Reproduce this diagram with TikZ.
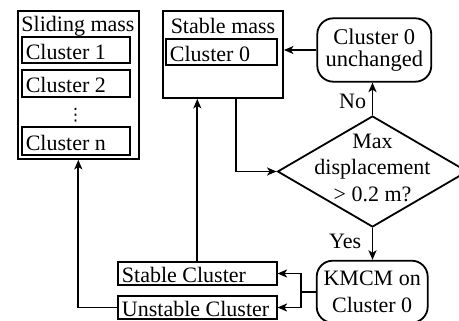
\documentclass[tikz,border=0pt]{standalone}
\usepackage{fontspec}
\setmainfont{Liberation Serif}
\newfontfamily\symfont{DejaVu Sans}
\usetikzlibrary{shapes.geometric,arrows.meta}
\begin{document}
\begin{tikzpicture}[x=1pt,y=-1pt,line width=1.8pt,
  txt/.style={font=\fontsize{22}{26}\selectfont, inner sep=0pt},
  frame/.style={draw, rectangle, inner sep=0pt},
  cbox/.style={draw, rectangle, txt, inner xsep=4pt, inner ysep=0pt,
               align=flush left, text height=19pt, text depth=0pt},
  rbox/.style={draw, rounded corners=16pt, txt, align=center, inner sep=0pt},
  arr/.style={-{Stealth[length=9.5pt,width=8pt,inset=2.5pt]}}]
\useasboundingbox (0,0) rectangle (459,321);
\clip (0,0) rectangle (459,321);

% Sliding mass group
\node[frame, minimum width=121.3pt, minimum height=148pt] (slide) at (78.3,85) {};
\node[txt, anchor=base] (slidet) at (78,32) {Sliding mass};
\node[cbox, text width=100pt, minimum height=26pt] (c1) at (75.8,49.7) {Cluster 1};
\node[cbox, text width=100pt, minimum height=26.7pt] (c2) at (75.8,83.3) {Cluster 2};
\node[inner sep=0pt, font=\symfont\fontsize{17}{17}\selectfont] (dots) at (75.5,115.5) {⋮};
\node[cbox, text width=100pt, minimum height=27.7pt] (cn) at (75.8,141.2) {Cluster n};

% Stable mass group
\node[frame, minimum width=120pt, minimum height=87pt] (stab) at (223,54.5) {};
\node[txt, anchor=base] (stabt) at (223,33.3) {Stable mass};
\node[cbox, text width=102.7pt, minimum height=26pt] (c0) at (221.3,52) {Cluster 0};

% Unchanged outcome
\node[rbox, minimum width=114pt, minimum height=63.4pt,
      font=\fontsize{22.5}{21.7}\selectfont] (unch) at (374.3,50) {Cluster 0\\unchanged};

% Decision
\node[draw, diamond, minimum width=190pt, minimum height=111pt, inner sep=0pt] (dec) at (372.5,171.5) {};
\node[txt, align=center, font=\fontsize{22}{26.4}\selectfont] (dect) at (372.5,167.9)
      {Max\\displacement\\> 0.2 m?};

% Clustering step
\node[rbox, minimum width=111pt, minimum height=62pt,
      font=\fontsize{22}{26.7}\selectfont] (kmcm) at (372.2,291.7) {KMCM on\\Cluster 0};

% Resulting clusters
\node[cbox, text width=150.7pt, minimum height=23pt] (stc) at (197.3,273.5) {Stable Cluster};
\node[cbox, text width=150.7pt, minimum height=23pt] (usc) at (197.3,307.5) {Unstable Cluster};

% Branch labels
\node[txt, anchor=base east] (no) at (367,108.3) {No};
\node[txt, anchor=base east] (yes) at (362,248.3) {Yes};

% Connectors
\draw[arr] (unch.west) -- (unch.west -| stab.east);
\draw[arr] (dec.north) -- (dec.north |- unch.south);
\draw[arr] (dec.south) -- (dec.south |- kmcm.north);
\coordinate (split) at ([xshift=-15pt]kmcm.west);
\draw (kmcm.west) -- (split);
\draw[arr] (split) |- (stc.east);
\draw[arr] (split) |- (usc.east);
\draw[arr] (usc.west) -| (slide.south);
\draw[arr] (stc.north) -- (stc.north |- stab.south);
\draw[arr] ([xshift=-48pt]stab.south east) |- (dec.west);
\end{tikzpicture}
\end{document}
